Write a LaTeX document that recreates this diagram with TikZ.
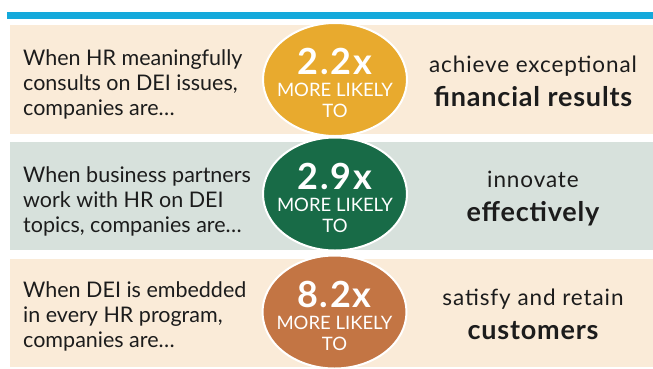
\documentclass[tikz,border=0pt]{standalone}
\usepackage{fontspec}
\setmainfont{Lato}
\newfontfamily\widelato[LetterSpace=4,BoldFeatures={LetterSpace=3}]{Lato}
\newfontfamily\numlato[LetterSpace=5]{Lato}
\usetikzlibrary{shapes.geometric}
\definecolor{barblue}{HTML}{14A9DB}
\definecolor{beige}{HTML}{FAEBD8}
\definecolor{sage}{HTML}{D7E1DC}
\definecolor{gold}{HTML}{E8AA2E}
\definecolor{forest}{HTML}{186B47}
\definecolor{rust}{HTML}{C37544}
\definecolor{ink}{HTML}{1C1C1C}
\tikzset{
  panel/.style={rectangle, inner sep=0pt, outer sep=0pt, minimum width=643pt, minimum height=108.5pt, anchor=north west},
  badge/.style={ellipse, draw=white, line width=2pt, inner sep=0pt, minimum width=144pt, minimum height=113pt},
  badgetext/.style={text=white, align=center, inner sep=0pt, font=\fontsize{18.5}{21}\selectfont},
  lefttext/.style={text=ink, align=left, inner sep=0pt, anchor=west, font=\fontsize{21.5}{25}\selectfont},
  righttext/.style={text=ink, align=center, inner sep=0pt, font=\widelato\fontsize{22.5}{34}\selectfont}
}
\newcommand{\bignum}[1]{{\numlato\fontsize{36}{36}\selectfont\bfseries #1}}
\newcommand{\boldline}[1]{{\fontsize{27}{34}\selectfont\bfseries #1}}
\begin{document}
\begin{tikzpicture}[x=1pt,y=-1pt]
\useasboundingbox (0,0) rectangle (653,368);
\fill[white] (0,0) rectangle (653,368);
\node[rectangle, fill=barblue, inner sep=0pt, minimum width=646pt, minimum height=7pt, anchor=north west] (bar) at (7,12) {};
% panels
\node[panel, fill=beige] (p1) at (10,25) {};
\node[panel, fill=sage]  (p2) at (10,141.5) {};
\node[panel, fill=beige] (p3) at (10,258.5) {};
% badges
\node[badge, fill=gold]   (e1) at (335,79.5) {};
\node[badge, fill=forest] (e2) at (335,194) {};
\node[badge, fill=rust]   (e3) at (334.5,312) {};
\node[badgetext] (b1) at ([yshift=-3.5pt]e1.center) {\bignum{2.2x}\\[1pt]MORE LIKELY\\TO};
\node[badgetext] (b2) at ([yshift=-3.5pt]e2.center) {\bignum{2.9x}\\[1pt]MORE LIKELY\\TO};
\node[badgetext] (b3) at ([yshift=-3.5pt]e3.center) {\bignum{8.2x}\\[1pt]MORE LIKELY\\TO};
% left texts
\node[lefttext] (l1) at (23,84) {When HR meaningfully\\consults on DEI issues,\\companies are…};
\node[lefttext] (l2) at (23,201.3) {When business partners\\work with HR on DEI\\topics, companies are…};
\node[lefttext] (l3) at (23,316) {When DEI is embedded\\in every HR program,\\companies are…};
% right texts
\node[righttext] (r1) at (533,81.8) {achieve exceptional\\\boldline{financial results}};
\node[righttext] (r2) at (533,198.5) {innovate\\\boldline{effectively}};
\node[righttext] (r3) at (533,314.8) {satisfy and retain\\\boldline{customers}};
\end{tikzpicture}
\end{document}
